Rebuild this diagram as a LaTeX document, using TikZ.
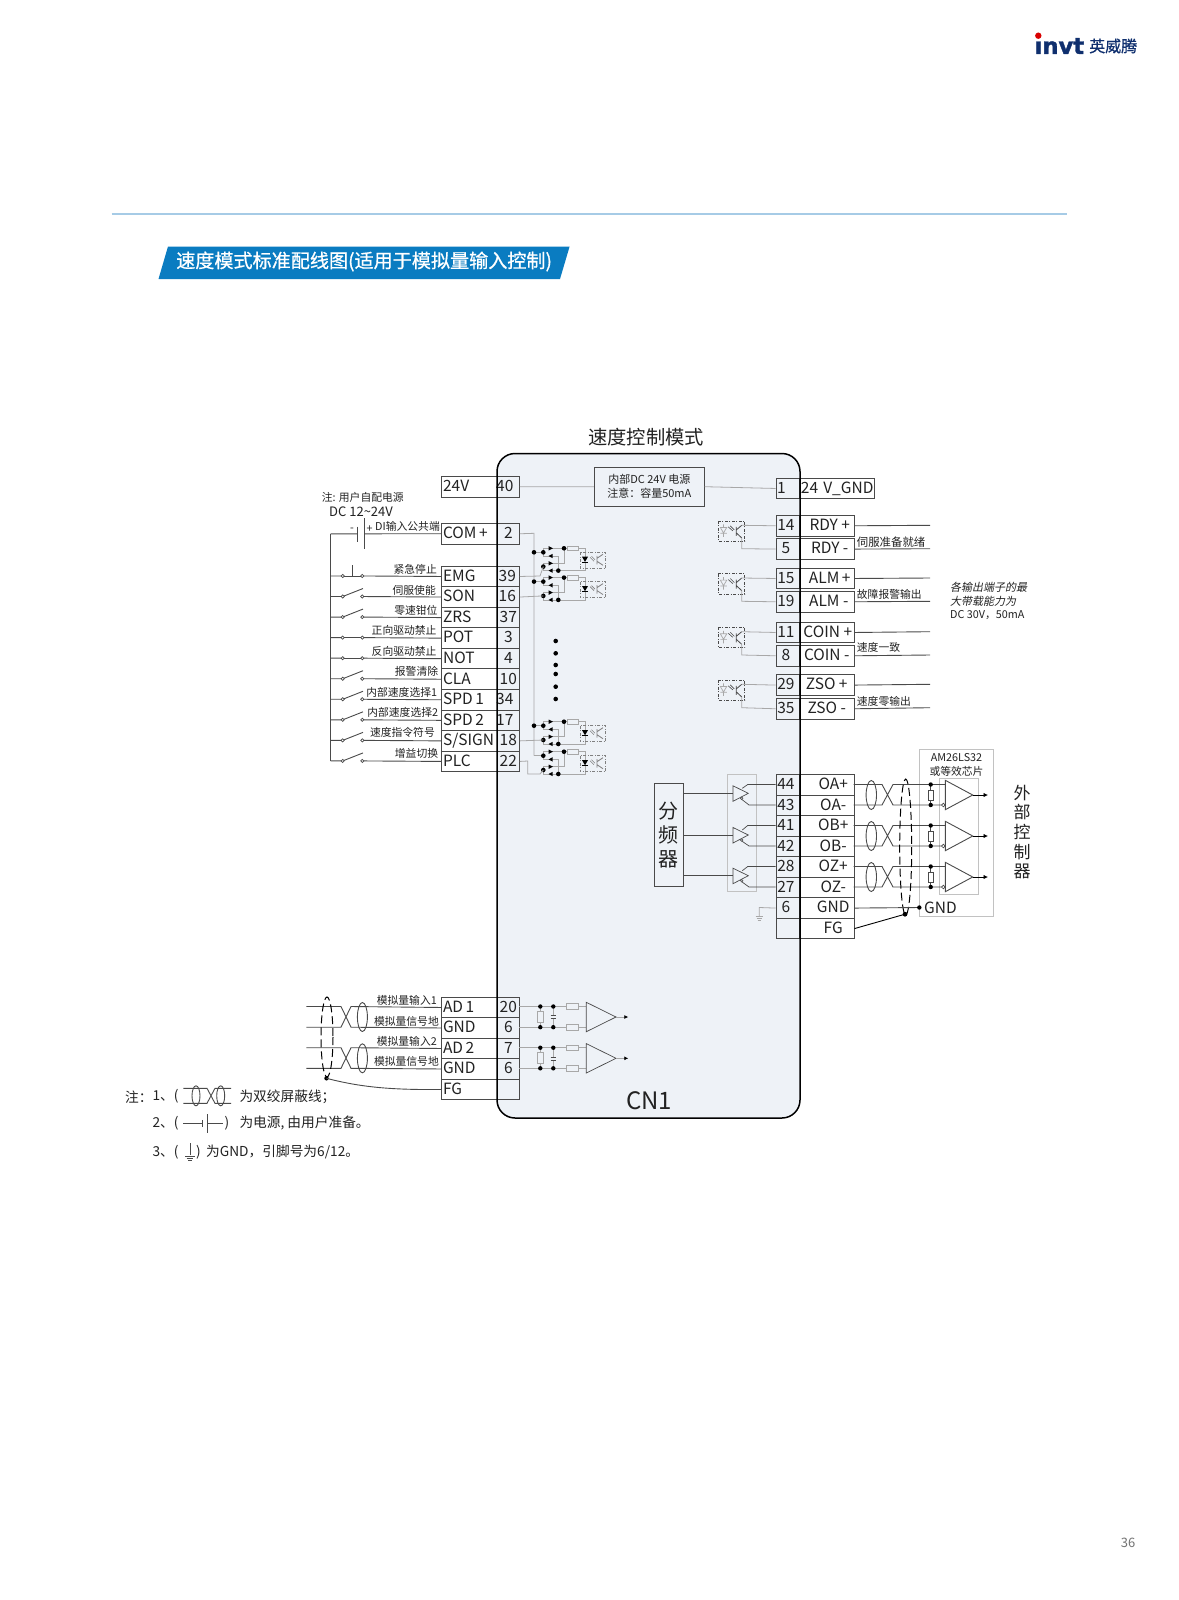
\documentclass[tikz,border=0pt]{standalone}
\usepackage{fontspec}
\setmainfont{Noto Sans CJK SC}
\newfontfamily\slantfont[FakeSlant=0.2]{Noto Sans CJK SC}
\newfontfamily\titlefont[FakeBold=0.7]{Noto Sans CJK SC}
\newfontfamily\logofont[BoldFeatures={FakeBold=1.5}]{DejaVu Sans}
\usetikzlibrary{arrows.meta}
\definecolor{bodyfill}{HTML}{EEF2F7}
\definecolor{wiregray}{HTML}{A8A8A8}
\definecolor{cellline}{HTML}{4A4A4A}
\definecolor{bluebar}{HTML}{0A7CC1}
\definecolor{ruleblue}{HTML}{A6CBE6}
\definecolor{navy}{HTML}{0F2F6E}
\definecolor{txt}{HTML}{222222}
\tikzset{
  fa/.style={font=\fontsize{15.5}{16}\selectfont},
  fb/.style={font=\fontsize{10.8}{12}\selectfont},
  fc/.style={font=\fontsize{13.7}{15}\selectfont},
  t/.style={inner sep=0pt,text=txt},
  cellbase/.style={draw=cellline,line width=1pt,minimum height=#1,inner ysep=0pt,inner xsep=0pt,text height=9.6pt,text depth=0pt,anchor=north west,fa,text=txt},
  lcell/.style={cellbase=20.55pt,minimum width=55.5pt,text width=53pt,align=left},
  pcell/.style={cellbase=20.55pt,minimum width=22pt,align=center},
  rpin/.style={cellbase=20.55pt,minimum width=23.3pt,align=center},
  rlab/.style={cellbase=20.55pt,minimum width=54.5pt,align=center},
  thinw/.style={draw=wiregray,line width=.8pt},
  sigw/.style={draw=cellline,line width=.9pt},
  dashbox/.style={draw=cellline,line width=.7pt,dash pattern=on 3pt off 1.5pt on 1pt off 1.5pt},
  outarrow/.style={draw=black,line width=.8pt,-{Latex[length=4.5pt,width=4.5pt]}},
  shield/.style={draw=black,line width=1pt,dash pattern=on 8pt off 4pt},
  gbox/.style={draw=wiregray!70,line width=.9pt}
}
% input opto block
\newcommand\diodeR[2]{\fill (#1-2,#2-2.2) -- (#1+2.2,#2) -- (#1-2,#2+2.2) -- cycle;}
\newcommand\diodeL[2]{\fill (#1+2,#2-2.2) -- (#1-2.2,#2) -- (#1+2,#2+2.2) -- cycle;}
\newcommand\inblock[2]{%
 \begin{scope}[shift={(534,#1)}]
  \draw[thinw] (9.3,0)--(9.3,-4)--(30,-4) (9.3,0)--(9.3,3.7)--(24.3,3.7)--(24.3,18.3)
    (9.3,14.3)--(9.3,11)--(30,11)--(30,-4) (9.3,14.3)--(9.3,18.3)--(24.3,18.3);
  \draw[thinw] (#2,0)--(9.3,0);
  \draw[thinw] (30,-4)--(33.3,-4) (44.3,-4)--(51,-4)--(51,4.4) (51,9.4)--(51,18.3)--(24.3,18.3);
  \draw[thinw,fill=bodyfill] (33.3,-6.3) rectangle (44.3,-1.7);
  \draw[dashbox,draw=gray] (46,0) rectangle (71.7,16);
  \fill[black] (48,4.4)--(54,4.4)--(51,9.6)--cycle;
  \draw[black,line width=.7pt] (48,9.8)--(54,9.8);
  \draw[gray,line width=.6pt] (56,5)--(60,9) (57.5,4)--(61,7.5);
  \draw[gray,line width=.8pt] (63,3.5)--(63,12) (63,6)--(69,2) (63,9)--(69,13);
  \begin{scope}[black]
   \fill (9.3,0) circle (2.3) (9.3,14.3) circle (2.3) (24.3,18.3) circle (2.3) (30,-4) circle (2.3);
   \diodeR{16.7}{-4}\diodeL{16.7}{3.7}\diodeR{16.7}{11}\diodeL{16.7}{18.3}
  \end{scope}
 \end{scope}}
% output opto
\newcommand\outopto[3]{% y of upper line, coord upper, coord lower
 \begin{scope}[shift={(718.3,#1-4.4)}]
  \draw[dashbox] (0,0) rectangle (26.4,20.3);
  \draw[wiregray,line width=.7pt] (2,6.5)--(8.5,6.5)--(5.2,12)--cycle (2,12.3)--(8.5,12.3) (5.2,3.5)--(5.2,6.5) (5.2,12.3)--(5.2,16);
  \draw[cellline,line width=.6pt] (10,6)--(14.5,10) (12,5)--(16,9);
  \draw[cellline,line width=.8pt] (18,6)--(18,15) (18,9)--(23.4,4.4) (18,12)--(23.4,17);
  \coordinate (#2) at (23.4,4.4);
  \coordinate (#3) at (23.4,17);
 \end{scope}}
% twisted pair
\newcommand\twistR[3]{% yt yb cy
  \draw[sigw] (853.7,#1)--(882,#1)--(893,#2)--(943,#2) (853.7,#2)--(882,#2)--(893,#1)--(945.3,#1);
  \draw[sigw] (871.3,#3) ellipse [x radius=5.2,y radius=14.5];
  \draw[thinw,cellline] (930.7,#1)--(930.7,#2);
  \draw[sigw,fill=white] (928.2,#3-5) rectangle (933.2,#3+5);
  \fill (930.7,#1) circle (2.2) (930.7,#2) circle (2.2);
  \draw[cellline,line width=.7pt,fill=white] (943.3,#2) circle (1.8);
  \draw[line width=.9pt,cellline,fill=white] (945.3,#3-14.7)--(972.7,#3)--(945.3,#3+14.7)--cycle;
  \draw[outarrow] (972.7,#3)--(988,#3);}
\newcommand\twistL[5]{%
  \draw[sigw] (306.3,#1)--(341,#1)--(351,#2)--(#5) (306.3,#2)--(341,#2)--(351,#1)--(#4);
  \draw[sigw] (362.4,#3) ellipse [x radius=5,y radius=14.5];}
\newcommand\analog[3]{% yt yb cy
  \draw[thinw] (519,#1)--(566.7,#1) (519,#2)--(566.7,#2) (578,#1)--(586.3,#1) (578,#2)--(586.3,#2);
  \draw[thinw] (540.3,#1)--(540.3,#2) (553.3,#1)--(553.3,#3-1.5) (553.3,#3+1.5)--(553.3,#2);
  \draw[thinw,fill=bodyfill] (537.4,#3-5.5) rectangle (543.2,#3+5.5);
  \draw[cellline,line width=.6pt] (550.6,#3-1.5)--(556,#3-1.5) (550.6,#3+1.5)--(556,#3+1.5);
  \draw[thinw,fill=bodyfill] (566.7,#1-2.8) rectangle (578,#1+2.8) (566.7,#2-2.8) rectangle (578,#2+2.8);
  \fill (540.3,#1) circle (2.2) (553.3,#1) circle (2.2) (540.3,#2) circle (2.2) (553.3,#2) circle (2.2);
  \draw[cellline,line width=.7pt,fill=bodyfill] (586.3,#3-14.7)--(616,#3)--(586.3,#3+14.7)--cycle;
  \draw[thinw,-{Latex[length=4pt,width=4pt,color=black]}] (616,#3)--(628.3,#3);}
\newcommand\driver[3]{% cy, y of upper pin, y of lower pin
  \draw[cellline,line width=.7pt] (733,#1-7.5)--(748.3,#1)--(733,#1+8)--cycle;
  \draw[cellline,line width=.7pt] (775.7,#2)--(747.7,#2)--(742.3,#1-5) (775.7,#3)--(749,#3)--(741.7,#1+6);
  \draw[cellline,line width=.6pt,fill=bodyfill] (741.7,#1+5) circle (1.3);
  \draw[thinw,cellline] (683.3,#1)--(733,#1);}
\begin{document}
\begin{tikzpicture}[x=1pt,y=-1pt,line cap=butt]
\useasboundingbox (0,0) rectangle (1178,1600);
\fill[white] (0,0) rectangle (1178,1600);
% header
\draw[ruleblue,line width=1.6pt] (111.5,214) -- (1067,214);
\fill[bluebar] (158.5,279)--(168,246.5)--(569.6,246.5)--(560,279)--cycle;
\node[inner sep=0pt,anchor=west,text=white,font=\titlefont\fontsize{19.1}{21}\selectfont] (title) at (176,261.5) {速度模式标准配线图(适用于模拟量输入控制)};
% logo
\node[inner sep=0pt,anchor=west,text=navy,font=\logofont\bfseries\fontsize{22.6}{24}\selectfont] (logo) at (1034.5,46) {ınvt};
\fill[red!85!black] (1038.3,35.7) circle (3.2);
\node[inner sep=0pt,anchor=west,text=navy,font=\titlefont\fontsize{16}{18}\selectfont] (logocn) at (1089,46) {英威腾};
\node[inner sep=0pt,text=gray!90!black,font=\fontsize{13}{15}\selectfont] (pageno) at (1128,1543) {36};
% body
\fill[bodyfill,rounded corners=18pt] (497,453.5) rectangle (800,1118);
\node[t,font=\fontsize{19.3}{21}\selectfont] (mode) at (646,437.5) {速度控制模式};
\node[t,font=\fontsize{24}{26}\selectfont] (cn1) at (649,1101) {CN1};
% power box
\node[draw=cellline,line width=.8pt,fill=bodyfill,inner sep=0pt,minimum width=110pt,minimum height=39.5pt,align=center,text=txt,font=\fontsize{11}{14}\selectfont] (psu) at (649.3,486.7) {内部DC 24V 电源\\注意：容量50mA};
% left top cells
\node[lcell] (L24) at (441.3,476) {24V};
\node[pcell] (P40) at (496.8,476) {\hspace*{-7pt}40};
\node[lcell] (LCOM) at (441.3,523) {COM\,+};
\node[pcell] (P2) at (496.8,523) {2};
\draw[thinw] (P40.east)--(psu.west);
% DI rows
\foreach \i/\lab/\pin in {0/EMG/\hspace*{-2pt}39,1/SON/\hspace*{-2pt}16,2/ZRS/37,3/POT/3,4/NOT/4,5/CLA/10,6/SPD\,1/\hspace*{-7pt}34,7/SPD\,2/\hspace*{-7pt}17,8/{S/SIGN}/18,9/PLC/22}{
  \pgfmathsetmacro\yy{565.7+20.55*\i}
  \node[lcell] (LR\i) at (441.3,\yy) {\lab};
  \node[pcell] (PR\i) at (496.8,\yy) {\pin};
}
% bus and internal wires
\draw[thinw] (P2.east)--(534,533.3)--(534,755.7);
\inblock{552.3}{0}
\inblock{581.6}{0}
\inblock{725.7}{0}
\inblock{755.7}{0}
\foreach \y in {552.3,581.6,725.7}{\fill (534,\y) circle (2.3);}
\draw[thinw] (PR0.east)--(540,576)--(543.3,566.6);
\draw[thinw] (PR1.east)--(543.3,595.9);
\draw[thinw] (PR8.east)--(543.3,740);
\draw[thinw] (PR9.east)--(527.7,761)--(527.7,774)--(540,774)--(543.3,770);
\foreach \y in {641,653.3,665,674,686.7,699}{\fill (555.7,\y) circle (2.3);}
% DI external
\draw[sigw] (330.7,533.8)--(357.3,533.8) (364.3,533.8)--(LCOM.west);
\draw[sigw] (330.7,533.8)--(330.7,761);
\draw[cellline,line width=1pt] (357.3,526.7)--(357.3,541.7) (364.3,518)--(364.3,549);
\node[t,fb] (minus) at (352,529.5) {-};
\node[t,fb] (plus) at (369.5,529) {+};
\node[t,fb,anchor=west] (dicom) at (375,526) {DI输入公共端};
\node[t,fb,anchor=west] (note0) at (321.7,497.3) {注: 用户自配电源};
\node[t,font=\fontsize{13}{14}\selectfont,anchor=west] (dc) at (329,512) {DC 12\textasciitilde24V};
\foreach \i/\kind in {0/n,1/o,2/o,3/c,4/c,5/o,6/o,7/o,8/o,9/o}{
  \pgfmathsetmacro\yy{565.7+20.55*\i+10.27}
  \draw[sigw] (330.7,\yy)--(341,\yy) (364,\yy)--(LR\i.west);
  \draw[cellline,line width=.7pt] (342.7,\yy) circle (1.6) (362.3,\yy) circle (1.6);
}
\foreach \i in {1,2,5,6,7,8,9}{
  \pgfmathsetmacro\yy{565.7+20.55*\i+10.27}
  \draw[sigw] (344,\yy-.5)--(363,\yy-8);
}
\foreach \i in {0,3,4}{
  \pgfmathsetmacro\yy{565.7+20.55*\i+10.27}
  \draw[sigw] (344.3,\yy)--(360.7,\yy);
}
\draw[sigw] (352.3,565)--(352.3,576);
\foreach \i/\tx/\xr/\yt in {0/紧急停止/437/569.3,1/伺服使能/436/590,2/零速钳位/437.7/610,3/正向驱动禁止/436.7/630,4/反向驱动禁止/436.7/651,5/报警清除/438.3/671.7,6/内部速度选择1/437.3/692.3,7/内部速度选择2/438.3/712.7,8/速度指令符号/435/732.7,9/增益切换/438.3/753.3}{
  \node[t,fb,anchor=east] (dil\i) at (\xr,\yt) {\tx};
}
% right outputs
\node[rpin] (P1) at (775.7,477.7) {\hspace*{-13pt}1};
\node[cellbase=20pt,minimum width=74.3pt,text width=72pt,align=left] (GND24) at (799.3,477.7) {\mbox{24 V\_GND}};
\draw[thinw] (psu.east)--(P1.west);
\foreach \nm/\pin/\lab/\yy/\line in {a/14/\hspace*{6pt}RDY +/515/525.3,b/5/\hspace*{6pt}RDY -/538.3/548.7,c/15/\hspace*{6pt}ALM\,+/567.7/578,d/19/\hspace*{4pt}ALM -/591/601.3,e/11/\hspace*{2pt}COIN +/621.7/631.7,f/8/COIN -/645/655,g/29/ZSO +/674.3/684.3,h/35/ZSO -/698/707.7}{
  \node[rpin] (Q\nm) at (775.7,\yy) {\hspace*{-4pt}\pin};
  \node[rlab] (R\nm) at (799,\yy) {\lab};
  \coordinate (E\nm) at (930,\line);
  \draw[sigw] (R\nm.east)--(E\nm);
}
\outopto{525.3}{ca}{cb}
\outopto{578}{cc}{cd}
\outopto{631.7}{ce}{cf}
\outopto{684.3}{cg}{ch}
\draw[thinw] (ca)--(741.7,525.3)--(Qa.west);
\draw[thinw] (cb)--(741.7,548.7)--(Qb.west);
\draw[thinw] (cc)--(741.7,578)--(Qc.west);
\draw[thinw] (cd)--(741.7,601.3)--(Qd.west);
\draw[thinw] (ce)--(741.7,631.7)--(Qe.west);
\draw[thinw] (cf)--(741.7,655)--(Qf.west);
\draw[thinw] (cg)--(741.7,684.3)--(Qg.west);
\draw[thinw] (ch)--(741.7,707.7)--(Qh.west);
\node[t,anchor=west,font=\fontsize{11.4}{12}\selectfont] (o1) at (856.7,541.7) {伺服准备就绪};
\node[t,fb,anchor=west] (o2) at (856.7,594.3) {故障报警输出};
\node[t,fb,anchor=west] (o3) at (856.7,647.3) {速度一致};
\node[t,fb,anchor=west] (o4) at (856.7,701) {速度零输出};
\node[t,anchor=west,font=\slantfont\fontsize{11}{12}\selectfont] (n1) at (950,587.5) {各输出端子的最};
\node[t,anchor=west,font=\slantfont\fontsize{11}{12}\selectfont] (n2) at (950,601) {大带载能力为};
\node[t,fb,anchor=west] (n3) at (950,615) {DC 30V，50mA};
% divider and drivers
\node[draw=cellline,line width=.7pt,fill=bodyfill,minimum width=29pt,minimum height=103.4pt,inner sep=0pt,align=center,text=txt,font=\fontsize{20}{23.7}\selectfont] (div) at (668.8,835) {分\\频\\器};
\draw[gbox] (727.5,774.5) rectangle (756.7,891.3);
\foreach \i/\pin/\lab in {0/44/OA+,1/43/OA-,2/41/OB+,3/42/OB-,4/28/OZ+,5/27/OZ-,6/6/GND,7//FG}{
  \pgfmathsetmacro\yy{774.3+20.5*\i}
  \node[rpin] (S\i) at (775.7,\yy) {\hspace*{-4pt}\pin};
  \node[rlab] (T\i) at (799,\yy) {\hspace*{13pt}\lab};
}
\driver{793.3}{784.5}{805}
\driver{835}{825.5}{846}
\driver{875.7}{866.5}{887}
% ground at pin 6
\coordinate (gnd6) at (759.3,907.5);
\draw[thinw] (S6.west)--(gnd6)--(759.3,916.5);
\draw[thinw] (755.5,916.5)--(763,916.5) (756.5,918.5)--(762,918.5) (757.7,920.5)--(761,920.5);
% external receiver
\draw[gbox] (919.3,749.3) rectangle (993.3,916.7);
\draw[gbox] (939.3,778.3) rectangle (978.3,894.7);
\node[t,fb] (ic1) at (956.5,757.7) {AM26LS32};
\node[t,fb] (ic2) at (956.5,771) {或等效芯片};
\twistR{784.5}{805}{795}
\twistR{825.5}{846}{836}
\twistR{866.5}{887}{877}
\draw[shield] (905.7,847) ellipse [x radius=6,y radius=68];
\node[t,anchor=west,font=\fontsize{15.5}{16}\selectfont] (gndx) at (924,907.5) {GND};
\coordinate (gndd) at (919.3,907.5);
\coordinate (fgd) at (905,914.2);
\draw[sigw] (T6.east)--(gndd);
\draw[sigw,black] (T7.east)--(fgd);
\fill (gndd) circle (2.2) (fgd) circle (2.4);
\node[t,align=center,font=\fontsize{17}{19.6}\selectfont] (ext) at (1022,832) {外\\部\\控\\制\\器};
% analog
\foreach \i/\nm/\lab/\pin in {0/A/AD\,1/20,1/B/GND/6,2/C/AD\,2/7,3/D/GND/6,4/E/FG/}{
  \pgfmathsetmacro\yy{996.7+20.5*\i}
  \node[lcell] (AL\nm) at (441.3,\yy) {\lab};
  \node[pcell] (AP\nm) at (496.8,\yy) {\pin};
}
\analog{1006.5}{1027.2}{1017}
\analog{1047.7}{1068.3}{1058.3}
\twistL{1006.5}{1027.2}{1017}{ALA.west}{ALB.west}
\twistL{1047.7}{1068.3}{1058.3}{ALC.west}{ALD.west}
\draw[shield] (327,1037) ellipse [x radius=6,y radius=40];
\coordinate (fga) at (326.5,1078.3);
\fill (fga) circle (2.2);
\draw[sigw] (fga) .. controls (360,1087) and (390,1090) .. (ALE.west);
\node[t,fb,anchor=east] (an1) at (437,1000) {模拟量输入1};
\node[t,fb,anchor=east] (an2) at (439,1021) {模拟量信号地};
\node[t,fb,anchor=east] (an3) at (437,1041) {模拟量输入2};
\node[t,fb,anchor=east] (an4) at (439,1061.7) {模拟量信号地};
% body outline on top
\draw[black,line width=1.5pt,rounded corners=18pt] (497,453.5) rectangle (800,1118);
% notes
\node[t,fc,anchor=west] (f1) at (125,1096.7) {注：};
\node[t,fc,anchor=west] (f2) at (152.3,1096.7) {1、(};
\node[t,fc,anchor=west] (f3) at (239.3,1096.7) {为双绞屏蔽线；};
\draw[sigw] (183.3,1088.3)--(207,1088.3)--(215,1103.3)--(231,1103.3) (183.3,1103.3)--(207,1103.3)--(215,1088.3)--(231,1088.3);
\draw[sigw] (196,1095.8) ellipse [x radius=4,y radius=10] (220.7,1095.8) ellipse [x radius=4,y radius=10];
\node[t,fc,anchor=west] (f4) at (152.3,1123.3) {2、(};
\draw[sigw] (183.3,1123.3)--(202.3,1123.3) (207.3,1123.3)--(223.3,1123.3);
\draw[sigw] (202.3,1119.8)--(202.3,1126.8) (207.3,1114)--(207.3,1133.3);
\node[t,fc,anchor=west] (f5) at (224.5,1123.3) {)};
\node[t,fc,anchor=west] (f6) at (239.3,1123.3) {为电源, 由用户准备。};
\node[t,fc,anchor=west] (f7) at (152.3,1152.3) {3、(};
\draw[sigw] (190,1143)--(190,1155) (185,1156)--(195,1156) (186.7,1158.7)--(193.3,1158.7) (188.3,1160.7)--(191.7,1160.7);
\node[t,fc,anchor=west] (f8) at (196,1152.3) {)};
\node[t,fc,anchor=west] (f9) at (206,1152.3) {为GND，引脚号为6/12。};
\end{tikzpicture}
\end{document}
